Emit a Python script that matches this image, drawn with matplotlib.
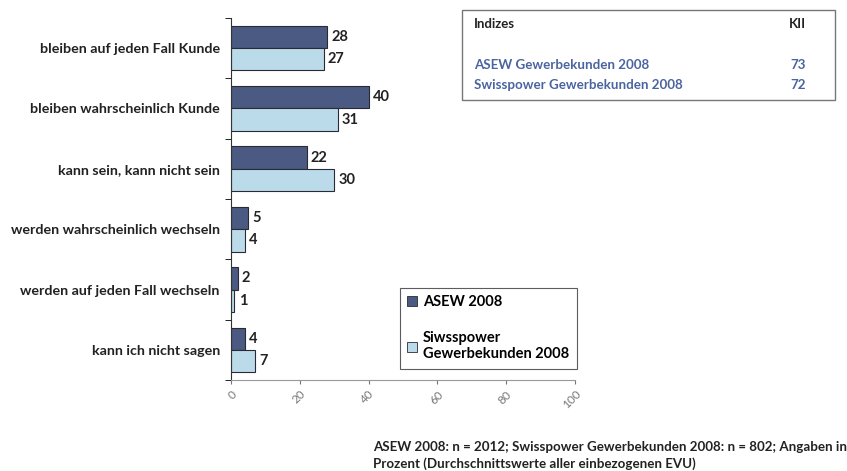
import matplotlib.pyplot as plt
import numpy as np
from matplotlib.patches import Rectangle, Patch

# categories, top to bottom
categories = ['bleiben auf jeden Fall Kunde', 'bleiben wahrscheinlich Kunde',
              'kann sein, kann nicht sein', 'werden wahrscheinlich wechseln',
              'werden auf jeden Fall wechseln', 'kann ich nicht sagen']
asew = [28, 40, 22, 5, 2, 4]
swisspower = [27, 31, 30, 4, 1, 7]
xticks = [0, 20, 40, 60, 80, 100]
index_names = ['ASEW Gewerbekunden 2008', 'Swisspower Gewerbekunden 2008']
index_values = [73, 72]

plt.rcParams['font.family'] = ['Lato', 'DejaVu Sans']
dark = '#4b5a82'
light = '#bcdbea'
edge = '#2a2a35'

fig = plt.figure(figsize=(8.47, 4.71), dpi=100)
ax = fig.add_axes([0.2727, 0.193, 0.406, 0.769])

n = len(categories)
y = np.arange(n)
h = 0.37
ax.barh(y - h / 2, asew, height=h, color=dark, edgecolor=edge, linewidth=0.8)
ax.barh(y + h / 2, swisspower, height=h, color=light, edgecolor=edge, linewidth=0.8)
for i in range(n):
    ax.text(asew[i] + 1.2, y[i] - h / 2, str(asew[i]), va='center', ha='left',
            fontsize=10.5, fontweight='bold', color='#222222')
    ax.text(swisspower[i] + 1.2, y[i] + h / 2, str(swisspower[i]), va='center', ha='left',
            fontsize=10.5, fontweight='bold', color='#222222')

ax.set_ylim(n - 0.5, -0.5)
ax.set_xlim(0, 100)
ax.set_yticks(y)
ax.set_yticklabels(categories, fontsize=10.3, fontweight='bold', color='#222222')
ax.set_yticks(np.arange(-0.5, n, 1), minor=True)
ax.tick_params(axis='y', which='major', length=0, pad=8)
ax.tick_params(axis='y', which='minor', length=4, direction='out')
ax.set_xticks(xticks)
ax.set_xticklabels([str(t) for t in xticks], rotation=45, fontsize=8.5, color='#777777',
                   ha='right', rotation_mode='anchor')
ax.tick_params(axis='x', length=3, colors='#777777', labelcolor='#777777', pad=3)
for s in ['top', 'right']:
    ax.spines[s].set_visible(False)
ax.spines['left'].set_color('#333333')
ax.spines['bottom'].set_color('#999999')

# legend
handles = [Patch(facecolor=dark, edgecolor=edge, linewidth=0.6, label='ASEW 2008'),
           Patch(facecolor=light, edgecolor=edge, linewidth=0.6,
                 label='Siwsspower\nGewerbekunden 2008')]
leg = fig.legend(handles=handles, loc='upper left', bbox_to_anchor=(0.472, 0.3885),
                 frameon=True, fancybox=False, prop={'size': 10.5, 'weight': 'bold'},
                 handlelength=0.7, handleheight=0.7, handletextpad=0.4,
                 labelspacing=1.5, borderpad=0.5, borderaxespad=0)
leg.get_frame().set_edgecolor('#333333')
leg.get_frame().set_linewidth(0.8)

# index box
fig.patches.append(Rectangle((462 / 847, 1 - 100 / 471), 373 / 847, 90 / 471,
                             transform=fig.transFigure, fill=False,
                             edgecolor='#777777', linewidth=1))
blue = '#4a64a0'
fig.text(474 / 847, 1 - 24 / 471, 'Indizes', fontsize=9.5, fontweight='bold',
         color='#222222', va='center')
fig.text(806 / 847, 1 - 24 / 471, 'KII', fontsize=9.5, fontweight='bold',
         color='#222222', va='center', ha='right')
for k, (nm, val) in enumerate(zip(index_names, index_values)):
    yy = 1 - (65 + k * 20) / 471
    fig.text(474 / 847, yy, nm, fontsize=9.65, fontweight='bold', color=blue, va='center')
    fig.text(806 / 847, yy, str(val), fontsize=9.65, fontweight='bold', color=blue,
             va='center', ha='right')

fig.text(373 / 847, 1 - 447 / 471,
         'ASEW 2008: n = 2012; Swisspower Gewerbekunden 2008: n = 802; Angaben in',
         fontsize=9.65, fontweight='bold', color='#222222', va='center')
fig.text(373 / 847, 1 - 464 / 471, 'Prozent (Durchschnittswerte aller einbezogenen EVU)',
         fontsize=9.65, fontweight='bold', color='#222222', va='center')

fig.savefig('out.png', dpi=100)
